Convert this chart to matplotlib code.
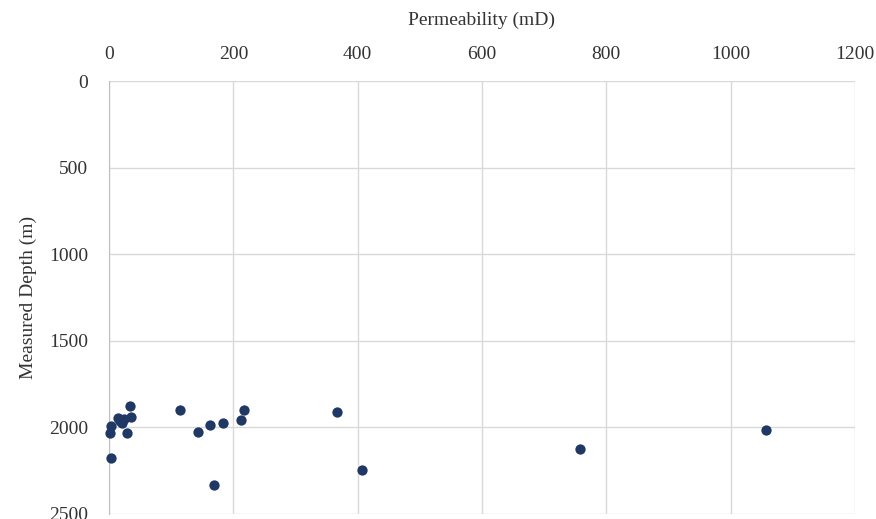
import matplotlib
matplotlib.use("Agg")
import matplotlib.pyplot as plt

# permeability (mD) vs measured depth (m)
permeability = [33, 3, 2, 15, 21, 24, 18, 35, 29, 3, 114, 143, 163, 183, 212, 217,
                169, 366, 407, 758, 1057]
depth = [1874, 1994, 2033, 1946, 1975, 1952, 1962, 1938, 2033, 2176, 1901, 2029,
         1987, 1977, 1955, 1900, 2330, 1911, 2247, 2124, 2014]

x_ticks = [0, 200, 400, 600, 800, 1000, 1200]
y_ticks = [0, 500, 1000, 1500, 2000, 2500]

plt.rcParams["font.family"] = ["Liberation Serif", "DejaVu Serif"]

fig = plt.figure(figsize=(8.76, 5.19), dpi=100)
ax = fig.add_axes([109 / 876, 1 - 514 / 519, (855 - 109) / 876, (514 - 81) / 519])

ax.scatter(permeability, depth, s=55, color="#1F3864", zorder=3, linewidths=0,
           clip_on=False)

ax.set_xlim(0, 1200)
ax.set_ylim(2500, 0)
ax.set_xticks(x_ticks)
ax.set_yticks(y_ticks)
ax.xaxis.tick_top()
ax.xaxis.set_label_position("top")
ax.tick_params(length=0, labelsize=14, colors="#333333")
ax.tick_params(axis="x", pad=13)
ax.tick_params(axis="y", pad=15)

ax.grid(True, color="#d9d9d9", linewidth=1)
ax.set_axisbelow(True)
for side in ["top", "right", "bottom"]:
    ax.spines[side].set_visible(False)
ax.spines["left"].set_color("#bfbfbf")

ax.set_xlabel("Permeability (mD)", fontsize=14, color="#333333", labelpad=15)
ax.set_ylabel("Measured Depth (m)", fontsize=14, color="#333333", labelpad=9)

fig.savefig("out.png", dpi=100)
